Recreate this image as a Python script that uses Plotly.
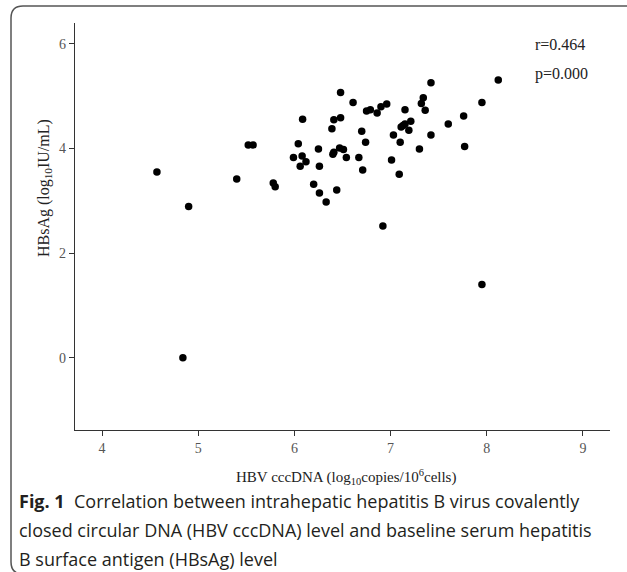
import plotly.graph_objects as go

# HBV cccDNA (log10 copies/10^6 cells)
cccdna = [4.57, 4.90, 4.84, 5.40, 5.52, 5.57, 5.78, 5.80, 5.99, 6.04,
          6.06, 6.08, 6.085, 6.12, 6.20, 6.25, 6.26, 6.26, 6.33, 6.39,
          6.40, 6.41, 6.41, 6.44, 6.47, 6.48, 6.48, 6.51, 6.54, 6.61,
          6.67, 6.70, 6.71, 6.74, 6.75, 6.79, 6.86, 6.90, 6.92, 6.96,
          7.01, 7.03, 7.09, 7.10, 7.11, 7.13, 7.15, 7.15, 7.19, 7.21,
          7.30, 7.32, 7.34, 7.36, 7.42, 7.42, 7.60, 7.76, 7.77, 7.95,
          7.95, 8.12]
# HBsAg (log10 IU/mL)
hbsag = [3.55, 2.89, 0.00, 3.42, 4.07, 4.07, 3.34, 3.27, 3.83, 4.09,
         3.66, 3.86, 4.56, 3.75, 3.32, 3.99, 3.66, 3.15, 2.98, 4.38,
         3.89, 3.93, 4.55, 3.21, 4.01, 4.59, 5.07, 3.98, 3.83, 4.88,
         3.83, 4.33, 3.59, 4.12, 4.72, 4.74, 4.68, 4.80, 2.52, 4.85,
         3.78, 4.26, 3.51, 4.12, 4.41, 4.44, 4.47, 4.74, 4.35, 4.52,
         3.99, 4.86, 4.97, 4.73, 5.26, 4.26, 4.47, 4.62, 4.04, 4.88,
         1.40, 5.31]

x_ticks = [4, 5, 6, 7, 8, 9]
y_ticks = [0, 2, 4, 6]

W, H = 627, 572
L, R, T, B = 75, 17, 23, 142
pw, ph = W - L - R, H - T - B

def px(x):
    return (x - L) / pw

def py(y):
    return (H - B - y) / ph

fig = go.Figure()
fig.add_trace(go.Scatter(
    x=cccdna, y=hbsag, mode="markers",
    marker=dict(color="black", size=7.5, line=dict(width=0)),
    hoverinfo="x+y", showlegend=False,
))

serif = "Liberation Serif, Times New Roman, serif"
axis_common = dict(
    showgrid=False, zeroline=False, showline=True, linecolor="#333333",
    linewidth=1.2, ticks="outside", ticklen=5, tickwidth=1.2,
    tickcolor="#333333", tickfont=dict(family=serif, size=14, color="#555555"),
)
fig.update_xaxes(range=[3.718, 9.282], tickvals=x_ticks,
                 ticktext=[str(v) for v in x_ticks], **axis_common)
fig.update_yaxes(range=[-1.38, 6.40], tickvals=y_ticks,
                 ticktext=[str(v) for v in y_ticks], **axis_common)

# rounded frame (partially outside the view on right/bottom)
fx0, fy0, fx1, fy1, rr = 11, 6, 660, 574, 12
path = (f"M {px(fx1)},{py(fy0)} L {px(fx0 + rr)},{py(fy0)} "
        f"Q {px(fx0)},{py(fy0)} {px(fx0)},{py(fy0 + rr)} "
        f"L {px(fx0)},{py(fy1 - rr)} "
        f"Q {px(fx0)},{py(fy1)} {px(fx0 + rr)},{py(fy1)} "
        f"L {px(fx1)},{py(fy1)}")
fig.add_shape(type="path", path=path, xref="paper", yref="paper",
              line=dict(color="#555555", width=1.5), layer="below")

ann = []
ann.append(dict(text="r=0.464", x=px(533), y=py(44), xref="paper", yref="paper",
                xanchor="left", yanchor="middle", showarrow=False,
                font=dict(family=serif, size=16, color="#222222")))
ann.append(dict(text="p=0.000", x=px(533), y=py(74), xref="paper", yref="paper",
                xanchor="left", yanchor="middle", showarrow=False,
                font=dict(family=serif, size=16, color="#222222")))
ann.append(dict(text="HBV cccDNA (log<sub>10</sub>copies/10<sup>6</sup>cells)",
                x=px(346), y=py(477), xref="paper", yref="paper",
                xanchor="center", yanchor="middle", showarrow=False,
                font=dict(family=serif, size=15, color="#222222")))
ann.append(dict(text="HBsAg (log<sub>10</sub>IU/mL)", textangle=-90,
                x=px(44), y=py(188), xref="paper", yref="paper",
                xanchor="center", yanchor="middle", showarrow=False,
                font=dict(family=serif, size=16, color="#222222")))

sans = "Open Sans, Noto Sans, sans-serif"
caption = [
    "<b>Fig. 1</b>  Correlation between intrahepatic hepatitis B virus covalently",
    "closed circular DNA (HBV cccDNA) level and baseline serum hepatitis",
    "B surface antigen (HBsAg) level",
]
for i, line in enumerate(caption):
    ann.append(dict(text=line, x=px(17), y=py(501 + 29 * i), xref="paper",
                    yref="paper", xanchor="left", yanchor="middle",
                    showarrow=False,
                    font=dict(family=sans, size=18, color="#231f20")))

fig.update_layout(
    width=W, height=H, margin=dict(l=L, r=R, t=T, b=B, autoexpand=False),
    paper_bgcolor="white", plot_bgcolor="white", annotations=ann,
)
fig.write_html("out.html")
